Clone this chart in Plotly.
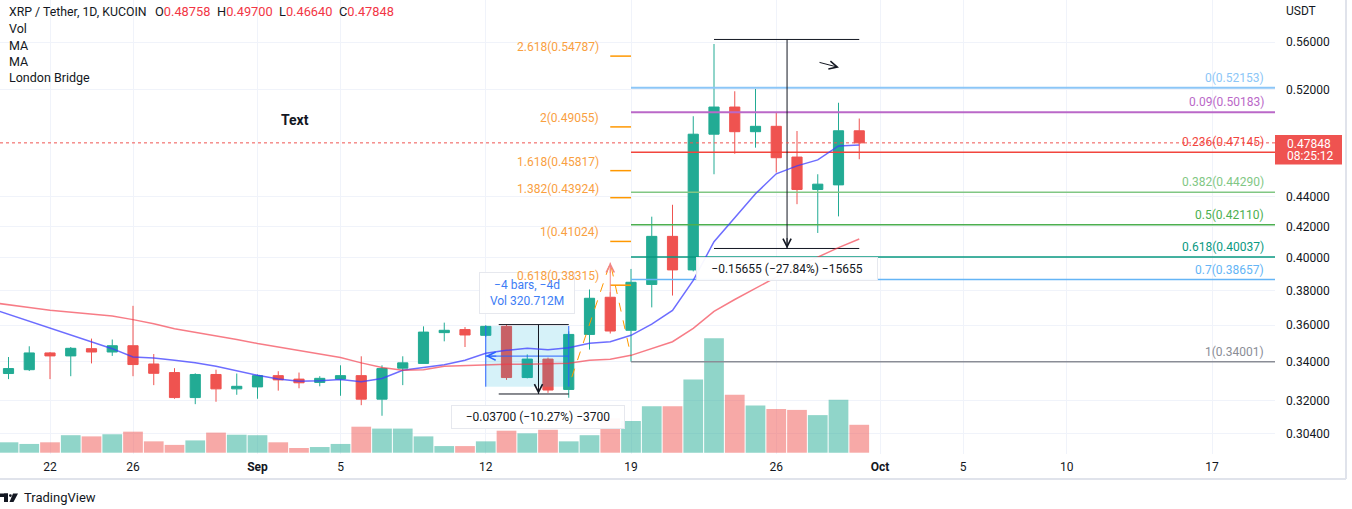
import math
import pandas as pd
import plotly.graph_objects as go

# ---------------- data ----------------
dates = pd.date_range("2022-08-20", "2022-09-30", freq="D")
opens = [0.3338, 0.3358, 0.3447, 0.3431, 0.3470, 0.3452, 0.3486, 0.3388, 0.3343, 0.3215, 0.3333, 0.3259,
         0.3269, 0.3327, 0.3309, 0.3292, 0.3309, 0.3327, 0.3207, 0.3366, 0.3391, 0.3558, 0.3575, 0.3543,
         0.3593, 0.3317, 0.3414, 0.3256, 0.3548, 0.3760, 0.3571, 0.3836, 0.4135, 0.3924, 0.4850, 0.5060,
         0.4869, 0.4910, 0.4680, 0.4449, 0.4481, 0.48758]
highs = [0.3425, 0.3483, 0.3452, 0.3479, 0.3525, 0.3520, 0.3710, 0.3441, 0.3366, 0.3339, 0.3358, 0.3338,
         0.3333, 0.3350, 0.3343, 0.3324, 0.3381, 0.3429, 0.3381, 0.3429, 0.3593, 0.3614, 0.3589, 0.3600,
         0.3603, 0.3439, 0.3422, 0.3565, 0.3806, 0.3790, 0.3930, 0.4264, 0.4344, 0.4988, 0.5583, 0.5186,
         0.5205, 0.5019, 0.4874, 0.4556, 0.5094, 0.49700]
lows = [0.3309, 0.3351, 0.3309, 0.3324, 0.3391, 0.3431, 0.3324, 0.3278, 0.3209, 0.3182, 0.3194, 0.3229,
        0.3209, 0.3250, 0.3262, 0.3272, 0.3224, 0.3177, 0.3125, 0.3278, 0.3391, 0.3510, 0.3479, 0.3535,
        0.3305, 0.3313, 0.3239, 0.3214, 0.3465, 0.3553, 0.3400, 0.3701, 0.3770, 0.3915, 0.4556, 0.4704,
        0.4749, 0.4568, 0.4348, 0.4157, 0.4266, 0.46640]
closes = [0.3364, 0.3447, 0.3431, 0.3472, 0.3452, 0.3486, 0.3385, 0.3339, 0.3215, 0.3333, 0.3259, 0.3272,
          0.3327, 0.3305, 0.3290, 0.3313, 0.3327, 0.3207, 0.3364, 0.3394, 0.3561, 0.3571, 0.3545, 0.3593,
          0.3317, 0.3414, 0.3253, 0.3548, 0.3754, 0.3567, 0.3849, 0.4135, 0.3924, 0.4850, 0.5060, 0.4869,
          0.4910, 0.4675, 0.4449, 0.4486, 0.4876, 0.47848]
volumes_m = [44, 37, 44, 74, 69, 78, 89, 48, 33, 52, 85, 76,
             74, 44, 20, 24, 37, 110, 102, 102, 69, 28, 28, 48, 93, 82, 97, 48, 74, 146,
             134, 196, 196, 310, 484, 245, 200, 185, 181, 159, 224, 118]

ma_dates = pd.date_range("2022-08-19", "2022-09-30", freq="D")
ma_fast = [0.3701, 0.3661, 0.3623, 0.3586, 0.3547, 0.3506, 0.3470, 0.3425, 0.3420, 0.3408, 0.3394, 0.3376, 0.3352,
           0.3329, 0.3309, 0.3298, 0.3300, 0.3307, 0.3295, 0.3312, 0.3355, 0.3369, 0.3384, 0.3408, 0.3445,
           0.3461, 0.3472, 0.3464, 0.3475, 0.3499, 0.3508, 0.3543, 0.3605, 0.3684, 0.3860, 0.4101, 0.4257,
           0.4419, 0.4559, 0.4616, 0.4659, 0.4762, 0.4769]
ma_slow = [0.3732, 0.3718, 0.3701, 0.3684, 0.3674, 0.3665, 0.3651, 0.3631, 0.3608, 0.3580, 0.3561, 0.3543, 0.3520,
           0.3498, 0.3479, 0.3457, 0.3440, 0.3422, 0.3394, 0.3369, 0.3355, 0.3358, 0.3376, 0.3380, 0.3387,
           0.3387, 0.3387, 0.3389, 0.3392, 0.3408, 0.3413, 0.3434, 0.3469, 0.3508, 0.3582, 0.3678, 0.3747,
           0.3815, 0.3880, 0.3944, 0.4003, 0.4063, 0.4118]

# Fib retracement (right)
fib_levels = [0, 0.09, 0.236, 0.382, 0.5, 0.618, 0.7, 1]
fib_prices = [0.52153, 0.50183, 0.47145, 0.44290, 0.42110, 0.40037, 0.38657, 0.34001]
fib_colors = ["#8cc6f7", "#ba68c8", "#f2453d", "#81c784", "#4caf50", "#089981", "#64b5f6", "#8a8d96"]
fib_start = "2022-09-19"

# Trend-based fib extension (left, orange)
ext_levels = [2.618, 2, 1.618, 1.382, 1, 0.618]
ext_prices = [0.54787, 0.49055, 0.45817, 0.43924, 0.41024, 0.38315]
ext_points_x = ["2022-09-16 03:30", "2022-09-18", "2022-09-19"]
ext_points_y = [0.3319, 0.3969, 0.3430]

# Price range tools
pr1 = dict(x0="2022-09-12 15:00", x1="2022-09-16", xm="2022-09-14 13:00", top=0.3603, bot=0.3233,
           text="\u22120.03700 (\u221210.27%) \u22123700")
pr2 = dict(x0="2022-09-23", x1="2022-09-30", xm="2022-09-26 12:30", top=0.5623, bot=0.40575,
           text="\u22120.15655 (\u221227.84%) \u221215655")
# Date range tool
dr = dict(x0="2022-09-12", x1="2022-09-16", top=0.3595, bot=0.3270, arrow=0.3430)

last_price = 0.47848
price_ticks = [0.56, 0.52, 0.44, 0.42, 0.40, 0.38, 0.36, 0.34, 0.32, 0.304]
date_ticks = ["2022-08-22", "2022-08-26", "2022-09-01", "2022-09-05", "2022-09-12", "2022-09-19",
              "2022-09-26", "2022-10-01", "2022-10-05", "2022-10-10", "2022-10-17"]
date_labels = ["22", "26", "<b>Sep</b>", "5", "12", "19", "26", "<b>Oct</b>", "5", "10", "17"]

# ---------------- styling ----------------
FONT = "Roboto, Arial, sans-serif"
TXT = "#131722"
UP, DN = "#22ab94", "#ef5350"
UPV, DNV = "rgba(34,171,148,0.5)", "rgba(239,83,80,0.5)"
GRID = "#f0f3fa"
PW, PH = 1275, 454  # plot area in pixels

def px(x):
    return x / PW

def py(y):
    return 1 - y / PH

x_start = pd.Timestamp("2022-08-22") - pd.Timedelta(days=50 / 20.75)
x_end = pd.Timestamp("2022-08-22") + pd.Timedelta(days=(PW - 50) / 20.75)

fig = go.Figure()

# volume
vol_colors = [UPV if c >= o else DNV for o, c in zip(opens, closes)]
fig.add_trace(go.Bar(x=dates, y=volumes_m, marker=dict(color=vol_colors, line=dict(width=0)),
                     yaxis="y", hoverinfo="skip"))

def line(xs, ys, color, width=1, dash=None, fill=None, fillcolor=None):
    fig.add_trace(go.Scatter(x=xs, y=ys, mode="lines", yaxis="y2", hoverinfo="skip",
                             line=dict(color=color, width=width, dash=dash),
                             fill=fill, fillcolor=fillcolor))

# fib retracement lines
for lvl, p, c in zip(fib_levels, fib_prices, fib_colors):
    line([fib_start, x_end], [p, p], c, 2 if lvl in (0, 0.09) else 1.5)

# fib extension short lines and dashed path
for p in ext_prices:
    line(["2022-09-18", "2022-09-19"], [p, p], "#ff9800", 1.5)
line(ext_points_x, ext_points_y, "#ff9800", 1, dash="dash")

# date range box
line([dr["x0"], dr["x1"], dr["x1"], dr["x0"], dr["x0"]], [dr["top"], dr["top"], dr["bot"], dr["bot"], dr["top"]],
     "rgba(0,0,0,0)", 0, fill="toself", fillcolor="rgba(0,172,215,0.16)")
line([dr["x0"], dr["x0"]], [dr["bot"], dr["top"]], "#2962ff", 1)
line([dr["x1"], dr["x1"]], [dr["bot"], dr["top"]], "#2962ff", 1)
line([dr["x0"], dr["x1"]], [dr["arrow"], dr["arrow"]], "#2962ff", 1)

# price range tools
for pr in (pr1, pr2):
    line([pr["x0"], pr["x1"]], [pr["top"], pr["top"]], TXT, 1)
    line([pr["x0"], pr["x1"]], [pr["bot"], pr["bot"]], TXT, 1)
    line([pr["xm"], pr["xm"]], [pr["top"], pr["bot"]], TXT, 1)

# last price dotted line
line([x_start, x_end], [last_price, last_price], DN, 1, dash="dot")

# candles
fig.add_trace(go.Candlestick(x=dates, open=opens, high=highs, low=lows, close=closes, yaxis="y2",
                             increasing=dict(line=dict(color=UP, width=1), fillcolor=UP),
                             decreasing=dict(line=dict(color=DN, width=1), fillcolor=DN),
                             whiskerwidth=0, hoverinfo="skip"))

# moving averages
fig.add_trace(go.Scatter(x=ma_dates, y=ma_fast, mode="lines", yaxis="y2", hoverinfo="skip",
                         line=dict(color="rgba(60,60,255,0.75)", width=1.5)))
fig.add_trace(go.Scatter(x=ma_dates, y=ma_slow, mode="lines", yaxis="y2", hoverinfo="skip",
                         line=dict(color="rgba(242,54,69,0.65)", width=1.5)))

# ---------------- annotations ----------------
ann = []

def text(x, y, s, size=12, color=TXT, xanchor="left", yanchor="middle", xref="paper", yref="paper", **kw):
    d = dict(x=x, y=y, text=s, xref=xref, yref=yref, xanchor=xanchor, yanchor=yanchor, showarrow=False,
             font=dict(family=FONT, size=size, color=color))
    d.update(kw)
    ann.append(d)

def head(x, y, ax, ay, color=TXT, xref="x", yref="y2"):
    ann.append(dict(x=x, y=y, xref=xref, yref=yref, ax=ax, ay=ay, axref="pixel", ayref="pixel",
                    showarrow=True, arrowhead=5, arrowsize=1.6, arrowwidth=1, arrowcolor=color,
                    standoff=0, text=""))

# header
text(px(7), py(12), "XRP / Tether, 1D, KUCOIN", size=12.3)
text(px(153), py(12), "O<span style='color:#f23645'>0.48758</span>", size=12.8)
text(px(215), py(12), "H<span style='color:#f23645'>0.49700</span>", size=12.8)
text(px(277), py(12), "L<span style='color:#f23645'>0.46640</span>", size=12.8)
text(px(337), py(12), "C<span style='color:#f23645'>0.47848</span>", size=12.8)
for i, s in enumerate(["Vol", "MA", "MA", "London Bridge"]):
    text(px(7), py(29 + 16 * i), s, size=12.5)
text(px(295), py(120), "<b>Text</b>", size=14, xanchor="center")

# fib retracement labels
for lvl, p, c in zip(fib_levels, fib_prices, fib_colors):
    text(px(1266), math.log10(p), f"{lvl:g}({p:.5f})", color=c, xanchor="right", yref="y2", yshift=10)

# date range label
text(pd.Timestamp(dr["x0"]) + (pd.Timestamp(dr["x1"]) - pd.Timestamp(dr["x0"])) / 2, math.log10(dr["top"]),
     "\u22124 bars, \u22124d<br>Vol 320.712M", color="#3d7df5", xanchor="center", xref="x", yref="y2",
     yshift=33, bgcolor="rgba(255,255,255,0.92)", bordercolor="#e6e8ee", borderwidth=1, borderpad=5,
     width=84)
head(dr["x0"], math.log10(dr["arrow"]), 12, 0, color="#2962ff")

# fib extension labels
for lvl, p in zip(ext_levels, ext_prices):
    text("2022-09-18", math.log10(p), f"{lvl:g}({p:.5f})", color="#f9a03f", xanchor="right",
         xref="x", yref="y2", yshift=9, xshift=-9)
# arrow on Sep 18
line(["2022-09-18", "2022-09-18"], [0.3760, 0.3969], "#f28585", 1)
head("2022-09-18", math.log10(0.3969), 0, 12, color="#f28585")

# price range labels and arrows
for pr, ys, w in ((pr1, -23, 164), (pr2, -21, 172)):
    head(pr["xm"], math.log10(pr["bot"]), 0, -12)
    text(pr["xm"], math.log10(pr["bot"]), pr["text"], xanchor="center", xref="x", yref="y2", yshift=ys,
         bgcolor="rgba(255,255,255,0.95)", bordercolor="#e6e8ee", borderwidth=1, borderpad=4, width=w)

# small arrow top right
ann.append(dict(x=px(839), y=py(67.5), xref="paper", yref="paper", ax=-21, ay=-5.5, axref="pixel", ayref="pixel",
                showarrow=True, arrowhead=5, arrowsize=1.6, arrowwidth=1, arrowcolor=TXT, standoff=0, text=""))

# price axis items
text(px(1284), py(11), "USDT")
text(px(1285), py(143.5), "0.47848", color="white")
text(px(1285), py(156.5), "08:25:12", color="white")

# TradingView brand
text(px(22), py(497.5), "TradingView", size=13)

shapes = [
    dict(type="rect", xref="paper", yref="paper", x0=px(1275), x1=px(1342), y0=py(164.5), y1=py(135),
         fillcolor=DN, line=dict(width=0), layer="below"),
    dict(type="line", xref="paper", yref="paper", x0=px(0), x1=px(1346), y0=py(479), y1=py(479),
         line=dict(color="#e0e3eb", width=2)),
    dict(type="line", xref="paper", yref="paper", x0=px(1346), x1=px(1346), y0=py(0), y1=py(479),
         line=dict(color="#e0e3eb", width=2)),
]

def pth(points):
    return "M " + " L ".join(f"{px(a):.5f},{py(b):.5f}" for a, b in points) + " Z"

shapes += [
    dict(type="path", xref="paper", yref="paper", path=pth([(0, 493.5), (8, 493.5), (8, 497), (0, 497)]),
         fillcolor=TXT, line=dict(width=0)),
    dict(type="path", xref="paper", yref="paper", path=pth([(4, 493.5), (8, 493.5), (8, 502), (4, 502)]),
         fillcolor=TXT, line=dict(width=0)),
    dict(type="circle", xref="paper", yref="paper", x0=px(9), x1=px(11.8), y0=py(497), y1=py(494.2),
         fillcolor=TXT, line=dict(width=0)),
    dict(type="path", xref="paper", yref="paper", path=pth([(13, 493.5), (18, 493.5), (13.5, 502), (9.5, 502)]),
         fillcolor=TXT, line=dict(width=0)),
]

fig.update_layout(
    width=1352, height=509,
    margin=dict(l=0, r=1352 - PW, t=0, b=509 - PH),
    paper_bgcolor="white", plot_bgcolor="white",
    showlegend=False, bargap=0.05,
    font=dict(family=FONT, size=12, color=TXT),
    xaxis=dict(type="date", range=[x_start, x_end], tickvals=date_ticks, ticktext=date_labels,
               showgrid=True, gridcolor=GRID, gridwidth=1, zeroline=False, showline=False, ticks="",
               tickfont=dict(family=FONT, size=12, color=TXT), ticklabelstandoff=4,
               rangeslider=dict(visible=False), fixedrange=True),
    yaxis=dict(range=[-5.5, 1915], visible=False, fixedrange=True),
    yaxis2=dict(type="log", range=[-0.53108, -0.22328], overlaying="y", side="right", anchor="x",
                tickvals=price_ticks, ticktext=[f"{v:.5f}" for v in price_ticks],
                showgrid=True, gridcolor=GRID, gridwidth=1, zeroline=False, showline=False, ticks="",
                tickfont=dict(family=FONT, size=12, color=TXT), ticklabelstandoff=10, fixedrange=True),
    annotations=ann,
    shapes=shapes,
)

fig.write_html("out.html", config=dict(displayModeBar=False),
               post_script="document.body.style.margin='0';document.body.style.overflow='hidden';")
